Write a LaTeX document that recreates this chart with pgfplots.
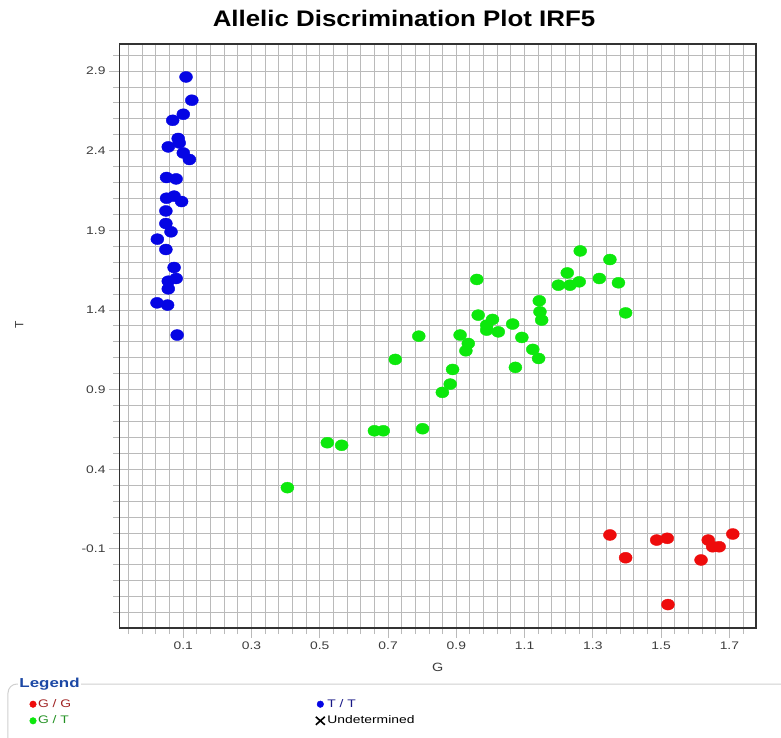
\documentclass[border=0pt]{standalone}
\usepackage{fontspec}
\setmainfont{Liberation Sans}
\usepackage{graphicx}
\usepackage{pgfplots}
\pgfplotsset{compat=1.18}
\definecolor{blueM}{RGB}{5,5,228}
\definecolor{greenM}{RGB}{12,232,12}
\definecolor{redM}{RGB}{238,12,12}
\definecolor{gridC}{RGB}{186,186,186}
\definecolor{boxC}{RGB}{50,50,50}
\definecolor{tickC}{RGB}{60,60,60}
\definecolor{legBlue}{RGB}{28,72,165}
\definecolor{ggText}{RGB}{160,35,35}
\definecolor{gtText}{RGB}{35,145,35}
\definecolor{ttText}{RGB}{25,25,135}
\definecolor{frameC}{RGB}{208,208,208}
\newcommand{\wide}[1]{\scalebox{1.26}[1]{#1}}
\begin{document}
\begin{tikzpicture}
\useasboundingbox (-119.3bp,-110bp) rectangle (661.7bp,628bp);
\begin{axis}[
  at={(0,0)}, anchor=south west,
  scale only axis, width=636.7bp, height=584bp,
  xmin=-0.0875, xmax=1.778, ymin=-0.596, ymax=3.07,
  xtick={0.1,0.3,0.5,0.7,0.9,1.1,1.3,1.5,1.7},
  xticklabels={0.1,0.3,0.5,0.7,0.9,1.1,1.3,1.5,1.7},
  ytick={-0.1,0.4,0.9,1.4,1.9,2.4,2.9},
  yticklabels={-0.1,0.4,0.9,1.4,1.9,2.4,2.9},
  minor xtick={-0.06,-0.02,0.02,0.06,0.14,0.18,0.22,0.26,0.34,0.38,0.42,0.46,0.54,0.58,0.62,0.66,0.74,0.78,0.82,0.86,0.94,0.98,1.02,1.06,1.14,1.18,1.22,1.26,1.34,1.38,1.42,1.46,1.54,1.58,1.62,1.66,1.74},
  minor ytick={-0.5,-0.4,-0.3,-0.2,0,0.1,0.2,0.3,0.5,0.6,0.7,0.8,1.0,1.1,1.2,1.3,1.5,1.6,1.7,1.8,2.0,2.1,2.2,2.3,2.5,2.6,2.7,2.8,3.0},
  grid=both,
  grid style={gridC, line width=1bp},
  major grid style={gridC, line width=1bp},
  minor grid style={gridC, line width=1bp},
  axis line style={boxC, line width=1.5bp},
  tick align=outside,
  xtick pos=bottom, ytick pos=left,
  major tick length=10bp, minor tick length=6bp,
  tick style={gridC, line width=1bp},
  ticklabel style={font=\fontsize{11bp}{13bp}\selectfont, text=tickC},
  xticklabel style={xscale=1.26},
  yticklabel style={xscale=1.26, xshift=0.5bp},
  /pgf/number format/assume math mode=true,
  xlabel={G}, ylabel={T},
  label style={font=\fontsize{12bp}{14bp}\selectfont, text=tickC},
  xlabel style={at={(axis description cs:0.5,-0.068)}, anchor=center, xscale=1.2},
  ylabel style={at={(axis description cs:-0.157,0.519)}, anchor=center},
  legend columns=2,
  legend style={
    at={(axis description cs:-0.141,-0.1447)}, anchor=west,
    draw=none, fill=none, inner sep=0pt,
    font=\fontsize{11bp}{13bp}\selectfont,
    nodes={inner sep=1.8bp, text height=9.5bp, text depth=3.5bp},
    /tikz/column 2/.style={column sep=242bp},
    row sep=0bp,
  },
  legend cell align=left,
  legend image code/.code={\draw[#1, mark size=3.3bp, mark options={xscale=1}] plot coordinates {(0bp,0bp)};},
]
\addplot[only marks, mark=*, mark size=5.5bp, color=redM, mark options={xscale=1.18, draw=redM, fill=redM}] table {
x y
1.350 -0.012
1.396 -0.155
1.487 -0.044
1.518 -0.033
1.520 -0.449
1.617 -0.169
1.638 -0.044
1.651 -0.086
1.670 -0.086
1.710 -0.006
};
\addlegendentry{\textcolor{ggText}{\wide{G / G}}}
\addplot[only marks, mark=*, mark size=5.5bp, color=blueM, mark options={xscale=1.18, draw=blueM, fill=blueM}] table {
x y
0.108 2.863
0.125 2.717
0.100 2.629
0.069 2.591
0.085 2.477
0.088 2.449
0.056 2.424
0.100 2.386
0.118 2.345
0.051 2.232
0.079 2.223
0.051 2.102
0.073 2.115
0.095 2.081
0.049 2.022
0.049 1.943
0.064 1.891
0.024 1.845
0.049 1.780
0.073 1.667
0.079 1.598
0.056 1.581
0.056 1.533
0.023 1.445
0.054 1.431
0.082 1.243
};
\addlegendentry{\textcolor{ttText}{\wide{T / T}}}
\addplot[only marks, mark=*, mark size=5.5bp, color=greenM, mark options={xscale=1.18, draw=greenM, fill=greenM}] table {
x y
0.405 0.285
0.522 0.567
0.564 0.551
0.660 0.642
0.686 0.642
0.801 0.655
0.721 1.090
0.790 1.236
0.859 0.883
0.882 0.935
0.889 1.027
0.911 1.243
0.935 1.190
0.928 1.144
0.960 1.592
0.964 1.368
1.006 1.341
0.989 1.305
0.989 1.274
1.023 1.263
1.065 1.312
1.092 1.228
1.124 1.153
1.141 1.096
1.073 1.040
1.143 1.458
1.145 1.389
1.150 1.337
1.199 1.556
1.225 1.633
1.233 1.556
1.260 1.577
1.263 1.771
1.319 1.598
1.350 1.717
1.375 1.571
1.396 1.382
};
\addlegendentry{\textcolor{gtText}{\wide{G / T}}}
\addlegendimage{legend image code/.code={\draw[black, line width=1.6bp] (-4.5bp,-4bp) -- (4.5bp,4bp) (-4.5bp,4bp) -- (4.5bp,-4bp);}}
\addlegendentry{\wide{Undetermined}}
\end{axis}
% title
\node[font=\bfseries\fontsize{22.5bp}{26bp}\selectfont, text=black, xscale=1.15] at (284.7bp,610bp) {Allelic Discrimination Plot IRF5};
% legend frame
\draw[frameC, line width=1bp, rounded corners=9bp] (-111.3bp,-140bp) -- (-111.3bp,-56bp) -- (700bp,-56bp);
\node[anchor=west, fill=white, inner sep=1.5bp, font=\bfseries\fontsize{13bp}{15bp}\selectfont, text=legBlue] at (-101.5bp,-56bp) {\scalebox{1.3}[1]{Legend}};
\end{tikzpicture}
\end{document}
